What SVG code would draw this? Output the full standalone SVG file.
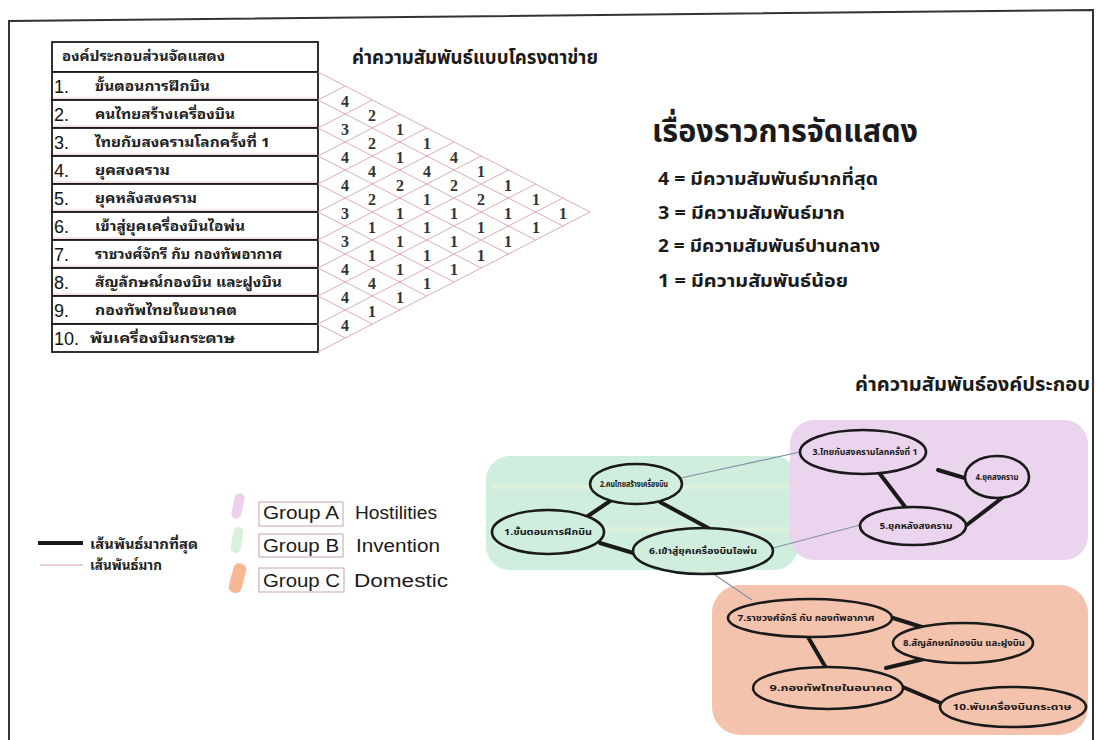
<svg xmlns="http://www.w3.org/2000/svg" width="1096" height="740" viewBox="0 0 1096 740">
<style>
.th{font-family:"Noto Sans Thai","Noto Sans","DejaVu Sans",sans-serif;font-weight:bold;fill:#1a1a1a}
.tl{font-family:"Noto Sans Thai Looped","Noto Serif Thai","Noto Sans Thai","Liberation Serif",serif;font-weight:bold;fill:#222;font-size:13px}
.num{font-family:"Liberation Sans",Arial,sans-serif;font-size:18px;fill:#111}
.cell{fill:#fff;stroke:#1a1a1a;stroke-width:1.8}
.lat{stroke:#d9a3ad;stroke-width:0.9;fill:none}
.val{font-family:"Liberation Serif",serif;font-weight:bold;font-size:16px;fill:#333;text-anchor:middle}
.ell{stroke:#1a1a1a;stroke-width:2.6}
.el{font-family:"Noto Sans Thai","Noto Sans",sans-serif;font-weight:bold;font-size:8.5px;fill:#1a1a1a;text-anchor:middle}
.thick{stroke:#1a1a1a;stroke-width:4;stroke-linecap:round}
.thin{stroke:#8391a8;stroke-width:1.2}
.en{font-family:"Liberation Sans",Arial,sans-serif;font-size:18px;fill:#1a1a1a}
.gbox{fill:none;stroke:#c9a2aa;stroke-width:1}
</style>
<rect width="1096" height="740" fill="#ffffff"/>
<path d="M9,742 L9,21 L1093,10 L1093,742" fill="none" stroke="#333" stroke-width="2"/>

<!-- table -->
<g id="table">
<rect class="cell" x="52" y="42" width="266" height="30"/>
<text class="tl" x="62" y="61" font-size="12" textLength="163" lengthAdjust="spacingAndGlyphs">องค์ประกอบส่วนจัดแสดง</text>
<rect class="cell" x="52" y="72" width="266" height="28"/>
<rect class="cell" x="52" y="100" width="266" height="28"/>
<rect class="cell" x="52" y="128" width="266" height="28"/>
<rect class="cell" x="52" y="156" width="266" height="28"/>
<rect class="cell" x="52" y="184" width="266" height="28"/>
<rect class="cell" x="52" y="212" width="266" height="28"/>
<rect class="cell" x="52" y="240" width="266" height="28"/>
<rect class="cell" x="52" y="268" width="266" height="28"/>
<rect class="cell" x="52" y="296" width="266" height="28"/>
<rect class="cell" x="52" y="324" width="266" height="28"/>
<g stroke="#e3a0a0" stroke-width="0.8" opacity="0.7">
<line x1="53" y1="98" x2="317" y2="98"/><line x1="53" y1="126" x2="317" y2="126"/><line x1="53" y1="154" x2="317" y2="154"/>
<line x1="53" y1="182" x2="317" y2="182"/><line x1="53" y1="210" x2="317" y2="210"/><line x1="53" y1="238" x2="317" y2="238"/>
<line x1="53" y1="266" x2="317" y2="266"/><line x1="53" y1="294" x2="317" y2="294"/>
</g>
<text class="num" x="54" y="93">1.</text>
<text class="num" x="54" y="121">2.</text>
<text class="num" x="54" y="149">3.</text>
<text class="num" x="54" y="177">4.</text>
<text class="num" x="54" y="205">5.</text>
<text class="num" x="54" y="233">6.</text>
<text class="num" x="54" y="261">7.</text>
<text class="num" x="54" y="289">8.</text>
<text class="num" x="54" y="317">9.</text>
<text class="num" x="54" y="345">10.</text>
<text class="tl" x="95" y="91" textLength="115" lengthAdjust="spacingAndGlyphs">ขั้นตอนการฝึกบิน</text>
<text class="tl" x="95" y="119" textLength="140" lengthAdjust="spacingAndGlyphs">คนไทยสร้างเครื่องบิน</text>
<text class="tl" x="95" y="147" textLength="175" lengthAdjust="spacingAndGlyphs">ไทยกับสงครามโลกครั้งที่ 1</text>
<text class="tl" x="95" y="175" textLength="75" lengthAdjust="spacingAndGlyphs">ยุคสงคราม</text>
<text class="tl" x="95" y="203" textLength="102" lengthAdjust="spacingAndGlyphs">ยุคหลังสงคราม</text>
<text class="tl" x="95" y="231" textLength="150" lengthAdjust="spacingAndGlyphs">เข้าสู่ยุคเครื่องบินไอพ่น</text>
<text class="tl" x="95" y="259" textLength="187" lengthAdjust="spacingAndGlyphs">ราชวงศ์จักรี กับ กองทัพอากาศ</text>
<text class="tl" x="95" y="287" textLength="187" lengthAdjust="spacingAndGlyphs">สัญลักษณ์กองบิน และฝูงบิน</text>
<text class="tl" x="95" y="315" textLength="142" lengthAdjust="spacingAndGlyphs">กองทัพไทยในอนาคต</text>
<text class="tl" x="90" y="343" textLength="145" lengthAdjust="spacingAndGlyphs">พับเครื่องบินกระดาษ</text>
</g>

<!-- lattice -->
<g id="lattice" class="lat">
<line x1="318" y1="72" x2="590" y2="212"/>
<line x1="318" y1="100" x2="562.8" y2="226"/><line x1="318" y1="100" x2="345.2" y2="86"/>
<line x1="318" y1="128" x2="535.6" y2="240"/><line x1="318" y1="128" x2="372.4" y2="100"/>
<line x1="318" y1="156" x2="508.4" y2="254"/><line x1="318" y1="156" x2="399.6" y2="114"/>
<line x1="318" y1="184" x2="481.2" y2="268"/><line x1="318" y1="184" x2="426.8" y2="128"/>
<line x1="318" y1="212" x2="454" y2="282"/><line x1="318" y1="212" x2="454" y2="142"/>
<line x1="318" y1="240" x2="426.8" y2="296"/><line x1="318" y1="240" x2="481.2" y2="156"/>
<line x1="318" y1="268" x2="399.6" y2="310"/><line x1="318" y1="268" x2="508.4" y2="170"/>
<line x1="318" y1="296" x2="372.4" y2="324"/><line x1="318" y1="296" x2="535.6" y2="184"/>
<line x1="318" y1="324" x2="345.2" y2="338"/><line x1="318" y1="324" x2="562.8" y2="198"/>
<line x1="318" y1="352" x2="590" y2="212"/>
</g>
<g id="values">
<text class="val" x="345" y="107">4</text><text class="val" x="345" y="135">3</text><text class="val" x="345" y="163">4</text>
<text class="val" x="345" y="191">4</text><text class="val" x="345" y="219">3</text><text class="val" x="345" y="247">3</text>
<text class="val" x="345" y="275">4</text><text class="val" x="345" y="303">4</text><text class="val" x="345" y="331">4</text>
<text class="val" x="372" y="121">2</text><text class="val" x="372" y="149">2</text><text class="val" x="372" y="177">4</text>
<text class="val" x="372" y="205">2</text><text class="val" x="372" y="233">1</text><text class="val" x="372" y="261">1</text>
<text class="val" x="372" y="289">4</text><text class="val" x="372" y="317">1</text>
<text class="val" x="400" y="135">1</text><text class="val" x="400" y="163">1</text><text class="val" x="400" y="191">2</text>
<text class="val" x="400" y="219">1</text><text class="val" x="400" y="247">1</text><text class="val" x="400" y="275">1</text>
<text class="val" x="400" y="303">1</text>
<text class="val" x="427" y="149">1</text><text class="val" x="427" y="177">4</text><text class="val" x="427" y="205">1</text>
<text class="val" x="427" y="233">1</text><text class="val" x="427" y="261">1</text><text class="val" x="427" y="289">1</text>
<text class="val" x="454" y="163">4</text><text class="val" x="454" y="191">2</text><text class="val" x="454" y="219">1</text>
<text class="val" x="454" y="247">1</text><text class="val" x="454" y="275">1</text>
<text class="val" x="481" y="177">1</text><text class="val" x="481" y="205">2</text><text class="val" x="481" y="233">1</text>
<text class="val" x="481" y="261">1</text>
<text class="val" x="508" y="191">1</text><text class="val" x="508" y="219">1</text><text class="val" x="508" y="247">1</text>
<text class="val" x="536" y="205">1</text><text class="val" x="536" y="233">1</text>
<text class="val" x="563" y="219">1</text>
</g>

<!-- titles and scale legend -->
<g id="titles">
<text class="th" x="352" y="64" font-size="20" textLength="246" lengthAdjust="spacingAndGlyphs">ค่าความสัมพันธ์แบบโครงตาข่าย</text>
<text class="th" x="652" y="142" font-size="32" textLength="266" lengthAdjust="spacingAndGlyphs">เรื่องราวการจัดแสดง</text>
<text class="th" x="658" y="185" font-size="18" textLength="220" lengthAdjust="spacingAndGlyphs">4 = มีความสัมพันธ์มากที่สุด</text>
<text class="th" x="658" y="219" font-size="18" textLength="187" lengthAdjust="spacingAndGlyphs">3 = มีความสัมพันธ์มาก</text>
<text class="th" x="658" y="252" font-size="18" textLength="222" lengthAdjust="spacingAndGlyphs">2 = มีความสัมพันธ์ปานกลาง</text>
<text class="th" x="658" y="287" font-size="18" textLength="190" lengthAdjust="spacingAndGlyphs">1 = มีความสัมพันธ์น้อย</text>
<text class="th" x="855" y="391" font-size="19" textLength="235" lengthAdjust="spacingAndGlyphs">ค่าความสัมพันธ์องค์ประกอบ</text>
</g>

<!-- group backgrounds -->
<g id="groups">
<rect x="486" y="456" width="312" height="114" rx="24" fill="#cfeedd"/>
<rect x="492" y="485" width="300" height="4" fill="#e9f3d9" opacity="0.6"/>
<rect x="492" y="527" width="300" height="4" fill="#e9f3d9" opacity="0.6"/>
<rect x="790" y="420" width="298" height="140" rx="24" fill="#ead4ee"/>
<rect x="712" y="585" width="376" height="150" rx="28" fill="#f4c3ad"/>
</g>

<!-- connectors -->
<g id="connectors">
<line class="thin" x1="681" y1="478" x2="800" y2="452"/>
<line class="thin" x1="773" y1="548" x2="860" y2="525"/>
<line class="thin" x1="712" y1="573" x2="752" y2="600"/>
<line class="thick" x1="613" y1="499" x2="588" y2="516"/>
<line class="thick" x1="660" y1="502" x2="710" y2="529"/>
<line class="thick" x1="600" y1="543" x2="640" y2="555"/>
<line class="thick" x1="938" y1="470" x2="968" y2="479"/>
<line class="thick" x1="880" y1="474" x2="906" y2="508"/>
<line class="thick" x1="964" y1="527" x2="1002" y2="498"/>
<line class="thick" x1="893" y1="618" x2="925" y2="628"/>
<line class="thick" x1="808" y1="637" x2="826" y2="668"/>
<line class="thick" x1="886" y1="668" x2="924" y2="659"/>
<line class="thick" x1="898" y1="685" x2="943" y2="704"/>
</g>

<!-- nodes -->
<g id="n1"><ellipse class="ell" cx="548" cy="532" rx="56" ry="22" fill="#cfeedd"/><text class="el" x="548" y="535" textLength="88" lengthAdjust="spacingAndGlyphs">1.ขั้นตอนการฝึกบิน</text></g>
<g id="n2"><ellipse class="ell" cx="636" cy="484" rx="46" ry="20" fill="#cfeedd"/><text class="el" x="634" y="487" textLength="68" lengthAdjust="spacingAndGlyphs">2.คนไทยสร้างเครื่องบิน</text></g>
<g id="n6"><ellipse class="ell" cx="703" cy="551" rx="70" ry="23" fill="#cfeedd"/><text class="el" x="703" y="554" textLength="108" lengthAdjust="spacingAndGlyphs">6.เข้าสู่ยุคเครื่องบินไอพ่น</text></g>
<g id="n3"><ellipse class="ell" cx="863" cy="452" rx="63" ry="22" fill="#ead4ee"/><text class="el" x="865" y="455" textLength="105" lengthAdjust="spacingAndGlyphs">3.ไทยกับสงครามโลกครั้งที่ 1</text></g>
<g id="n4"><ellipse class="ell" cx="997" cy="477" rx="32" ry="21" fill="#ead4ee"/><text class="el" x="997" y="480" textLength="43" lengthAdjust="spacingAndGlyphs">4.ยุคสงคราม</text></g>
<g id="n5"><ellipse class="ell" cx="913" cy="526" rx="53" ry="19" fill="#ead4ee"/><text class="el" x="916" y="529" textLength="73" lengthAdjust="spacingAndGlyphs">5.ยุคหลังสงคราม</text></g>
<g id="n7"><ellipse class="ell" cx="810" cy="618" rx="82" ry="19" fill="#f4c3ad"/><text class="el" x="806" y="621" textLength="137" lengthAdjust="spacingAndGlyphs">7.ราชวงศ์จักรี กับ กองทัพอากาศ</text></g>
<g id="n8"><ellipse class="ell" cx="963" cy="643" rx="70" ry="20" fill="#f4c3ad"/><text class="el" x="964" y="646" textLength="122" lengthAdjust="spacingAndGlyphs">8.สัญลักษณ์กองบิน และฝูงบิน</text></g>
<g id="n9"><ellipse class="ell" cx="828" cy="688" rx="75" ry="21" fill="#f4c3ad"/><text class="el" x="831" y="691" textLength="123" lengthAdjust="spacingAndGlyphs">9.กองทัพไทยในอนาคต</text></g>
<g id="n10"><ellipse class="ell" cx="1013" cy="707" rx="73" ry="20" fill="#f4c3ad"/><text class="el" x="1012" y="710" textLength="119" lengthAdjust="spacingAndGlyphs">10.พับเครื่องบินกระดาษ</text></g>

<!-- legend -->
<g id="legend">
<line x1="38" y1="543" x2="83" y2="543" stroke="#1a1a1a" stroke-width="4"/>
<text class="tl" x="90" y="549" font-size="16" textLength="108" lengthAdjust="spacingAndGlyphs">เส้นพันธ์มากที่สุด</text>
<line x1="40" y1="565" x2="83" y2="565" stroke="#d79aa8" stroke-width="1"/>
<text class="tl" x="90" y="570" font-size="16" textLength="72" lengthAdjust="spacingAndGlyphs">เส้นพันธ์มาก</text>
<rect x="233" y="493" width="10" height="26" rx="5" fill="#ecd2ee" transform="rotate(12 238 506)"/>
<rect x="232" y="527" width="10" height="26" rx="5" fill="#d8f0da" transform="rotate(10 237 540)"/>
<rect x="231" y="563" width="13" height="30" rx="6" fill="#f5b893" transform="rotate(15 237 578)"/>
<rect class="gbox" x="259" y="502" width="84" height="24"/>
<rect class="gbox" x="259" y="534" width="84" height="23"/>
<rect class="gbox" x="259" y="568" width="85" height="24"/>
<text class="en" x="263" y="519" textLength="76" lengthAdjust="spacingAndGlyphs">Group A</text>
<text class="en" x="263" y="552" textLength="76" lengthAdjust="spacingAndGlyphs">Group B</text>
<text class="en" x="263" y="587" textLength="77" lengthAdjust="spacingAndGlyphs">Group C</text>
<text class="en" x="355" y="519" textLength="82" lengthAdjust="spacingAndGlyphs">Hostilities</text>
<text class="en" x="356" y="552" textLength="84" lengthAdjust="spacingAndGlyphs">Invention</text>
<text class="en" x="354" y="587" textLength="94" lengthAdjust="spacingAndGlyphs">Domestic</text>
</g>
</svg>
